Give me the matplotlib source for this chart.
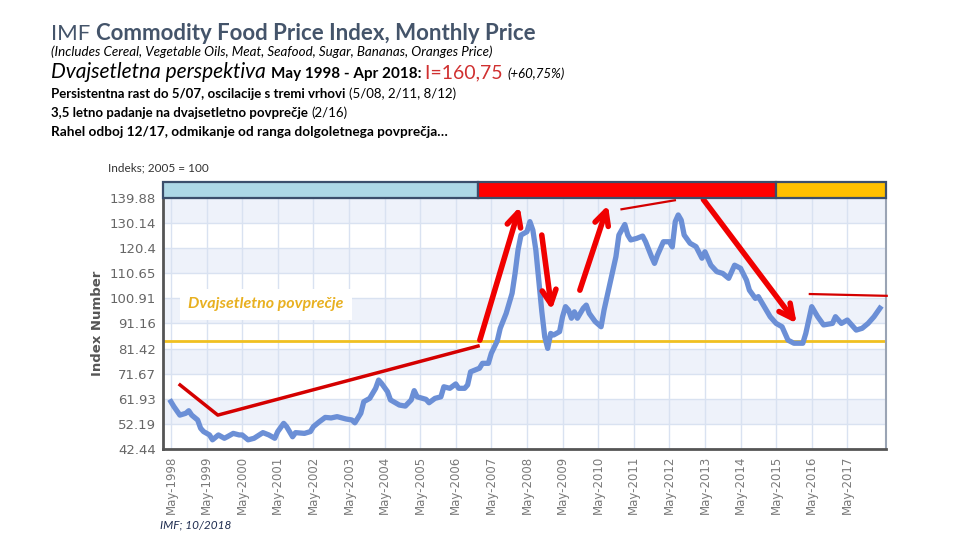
import numpy as np
import matplotlib
matplotlib.use('Agg')
import matplotlib.pyplot as plt
from matplotlib.patches import Rectangle
import matplotlib.transforms as mtransforms

# IMF food price index, month offset from May-1998 -> index value
months = [0, 1, 3, 5, 6, 7, 9, 10, 11, 13, 14, 16, 18, 19, 21, 23, 24, 26, 28, 31,
          33, 35, 36, 38, 39, 41, 42, 45, 47, 48, 50, 52, 54, 56, 59, 61, 62, 64, 65, 67,
          69, 70, 71, 73, 74, 77, 79, 81, 82, 83, 86, 87, 89, 91, 92, 94, 96, 97, 99, 100,
          101, 104, 105, 107, 108, 110, 111, 113, 115, 116, 117, 118, 120, 121, 122, 123, 124, 125, 126, 127,
          128, 129, 131, 132, 133, 134, 135, 136, 137, 139, 140, 141, 143, 145, 146, 148, 150, 151, 153, 154,
          155, 157, 159, 160, 162, 163, 164, 166, 168, 169, 170, 171, 172, 173, 175, 177, 179, 180, 182, 184,
          186, 188, 190, 192, 194, 195, 197, 198, 200, 202, 204, 206, 208, 210, 213, 214, 216, 218, 220, 223,
          224, 226, 228, 229, 231, 233, 235, 237, 239]
index_vals = [60.8, 58.9, 55.6, 56.3, 57.3, 55.6, 53.7, 50.5, 49.2, 47.9, 46.0, 47.9, 46.6, 47.2, 48.5, 47.9, 47.9, 46.0, 46.6, 48.8,
              47.9, 46.6, 49.2, 52.4, 51.1, 47.2, 48.8, 48.5, 49.2, 51.1, 53.0, 54.7, 54.5, 55.0, 54.1, 53.7, 52.6, 56.3, 60.8, 62.1,
              66.0, 69.2, 67.9, 64.7, 61.5, 59.5, 59.1, 61.5, 65.1, 62.7, 61.7, 60.4, 62.1, 62.7, 66.6, 66.0, 67.7, 66.0, 66.0, 67.3,
              72.4, 73.8, 75.7, 75.7, 79.6, 84.4, 89.3, 95.1, 102.9, 110.6, 119.7, 125.5, 126.8, 130.7, 127.4, 119.7, 108.0, 96.0, 86.0, 81.5,
              87.3, 86.7, 88.0, 93.8, 97.7, 96.4, 93.2, 95.7, 93.2, 97.1, 98.3, 95.1, 91.9, 89.9, 96.4, 106.8, 117.1, 125.5, 129.6, 125.5,
              123.6, 124.2, 125.1, 122.9, 117.1, 114.5, 117.7, 122.9, 122.9, 120.9, 130.7, 133.3, 131.3, 125.5, 122.3, 121.0, 116.5, 119.0, 113.8, 111.3,
              110.6, 108.7, 113.8, 112.6, 108.0, 104.1, 100.9, 101.6, 97.7, 93.8, 91.2, 89.9, 84.7, 83.5, 83.5, 87.3, 97.7, 93.8, 90.6, 91.2,
              93.8, 91.2, 92.5, 91.2, 88.6, 89.3, 91.2, 93.8, 97.1]

y_ticks = [42.44, 52.19, 61.93, 71.67, 81.42, 91.16, 100.91, 110.65, 120.4, 130.14, 139.88]
tick_years = list(range(1998, 2018))
avg_level = 84.4

# phase bar above the chart (decimal years)
phase_edges = [1998.11, 2006.96, 2015.33, 2018.42]
phase_colors = ['#add8e6', '#ff0000', '#ffc000']

# hand-drawn red trend lines / arrows (decimal year, index)
trend_line = [(1998.59, 67.3), (1999.65, 55.6), (2006.96, 82.4)]
arrows = [((2007.01, 84.7), (2008.13, 136.5)),
          ((2008.75, 125.5), (2009.03, 96.4)),
          ((2009.82, 104.1), (2010.61, 137.1)),
          ((2013.29, 139.3), (2015.91, 91.2))]
thin_lines = [((2010.99, 135.5), (2012.49, 139.0)),
              ((2016.28, 102.6), (2018.44, 101.9))]

t = 1998 + (4 + np.array(months)) / 12.0

plt.rcParams['font.family'] = ['DejaVu Sans']
fig = plt.figure(figsize=(9.6, 5.4), dpi=100)
ax = fig.add_axes([163 / 960, 1 - 449 / 540, (886 - 163) / 960, (449 - 198) / 540])
ax.set_xlim(1998.11, 2018.42)
ax.set_ylim(y_ticks[0], y_ticks[-1])

# alternating bands, top band shaded
for i in range(len(y_ticks) - 1):
    if i % 2 == 1:
        ax.axhspan(y_ticks[i], y_ticks[i + 1], color='#eef2fa', zorder=0, lw=0)
for yv in y_ticks:
    ax.axhline(yv, color='#d9e2f1', lw=1, zorder=0.5)
for yr in tick_years:
    ax.axvline(yr + 4 / 12, color='#d9e2f1', lw=1, zorder=0.5)

ax.axhline(avg_level, color='#f0c020', lw=2, zorder=2)
ax.plot(t, index_vals, color='#6b8fd6', lw=3.8, zorder=3, solid_joinstyle='round')

tx, ty = zip(*trend_line)
ax.plot(tx, ty, color='#d40000', lw=2.5, zorder=4, clip_on=False)
for (x0, y0), (x1, y1) in thin_lines:
    ax.plot([x0, x1], [y0, y1], color='#d40000', lw=1.6, zorder=4, clip_on=False)
for (x0, y0), (x1, y1) in arrows:
    ax.annotate('', xy=(x1, y1), xytext=(x0, y0), annotation_clip=False, zorder=5,
                arrowprops=dict(arrowstyle='->,head_length=1.0,head_width=0.5',
                                color='#f00000', lw=4, shrinkA=0, shrinkB=0))

# phase bar
trans = mtransforms.blended_transform_factory(ax.transData, ax.transAxes)
for i, c in enumerate(phase_colors):
    ax.add_patch(Rectangle((phase_edges[i], 1.0), phase_edges[i + 1] - phase_edges[i], 0.064,
                           transform=trans, facecolor=c, edgecolor='#3b4e6b', lw=1.6,
                           clip_on=False, zorder=6))

ax.set_yticks(y_ticks)
ax.set_yticklabels([f'{v:g}' for v in y_ticks], color='#666666', fontsize=9.5)
ax.set_xticks([yr + 4 / 12 for yr in tick_years])
ax.set_xticklabels([f'May-{yr}' for yr in tick_years], rotation=90, color='#7a7a7a', fontsize=8.5)
ax.tick_params(length=0, pad=5)
ax.set_ylabel('Index Number', fontsize=9.5, fontweight='bold', color='#555555', labelpad=4)
ax.spines['top'].set_visible(False)
ax.spines['left'].set_color('#555555')
ax.spines['left'].set_linewidth(2)
ax.spines['bottom'].set_color('#555555')
ax.spines['bottom'].set_linewidth(2)
ax.spines['right'].set_color('#9aa4b4')
ax.spines['right'].set_linewidth(1.5)

ax.text(0.035, 0.56, 'Dvajsetletno povprečje', transform=ax.transAxes, fontsize=11.5,
        fontstyle='italic', fontweight='bold', color='#e8b020', family='Lato', zorder=7,
        bbox=dict(facecolor='white', edgecolor='none', pad=6))

fig.text(108 / 960, 1 - 168 / 540, 'Indeks; 2005 = 100', fontsize=8.5, color='#333333',
         va='center', family='Lato')
fig.text(160 / 960, 1 - 525 / 540, 'IMF; 10/2018', fontsize=8.5, color='#1f2d50',
         fontstyle='italic', va='center', family='Lato')

# header text, pieces chained left to right
renderer = fig.canvas.get_renderer()


def text_row(parts, x_px, base_px):
    x = x_px
    for s, kw in parts:
        tt = fig.text(x / 960, 1 - base_px / 540, s, va='baseline', ha='left', family='Lato', **kw)
        x = tt.get_window_extent(renderer).x1


text_row([('IMF ', dict(fontsize=16, color='#44546a')),
          ('Commodity Food Price Index, Monthly Price', dict(fontsize=16, color='#44546a', fontweight='bold'))],
         51, 40)
text_row([('(Includes Cereal, Vegetable Oils, Meat, Seafood, Sugar, Bananas, Oranges Price)',
           dict(fontsize=9.6, fontstyle='italic', color='black'))], 51, 56)
text_row([('Dvajsetletna perspektiva ', dict(fontsize=15, fontstyle='italic', color='black')),
          ('May 1998 - Apr 2018: ', dict(fontsize=11, fontweight='bold', color='black')),
          ('I=160,75 ', dict(fontsize=14, color='#d03030')),
          ('(+60,75%)', dict(fontsize=9.5, fontstyle='italic', color='black'))], 51, 78)
text_row([('Persistentna rast do 5/07, oscilacije s tremi vrhovi ', dict(fontsize=9.5, fontweight='bold', color='black')),
          ('(5/08, 2/11, 8/12)', dict(fontsize=9.5, color='black'))], 51, 98)
text_row([('3,5 letno padanje na dvajsetletno povprečje ', dict(fontsize=9.5, fontweight='bold', color='black')),
          ('(2/16)', dict(fontsize=9.5, color='black'))], 51, 117)
text_row([('Rahel odboj 12/17, odmikanje od ranga dolgoletnega povprečja…', dict(fontsize=9.8, fontweight='bold', color='black'))],
         51, 136)

fig.savefig('out.png', dpi=100)
